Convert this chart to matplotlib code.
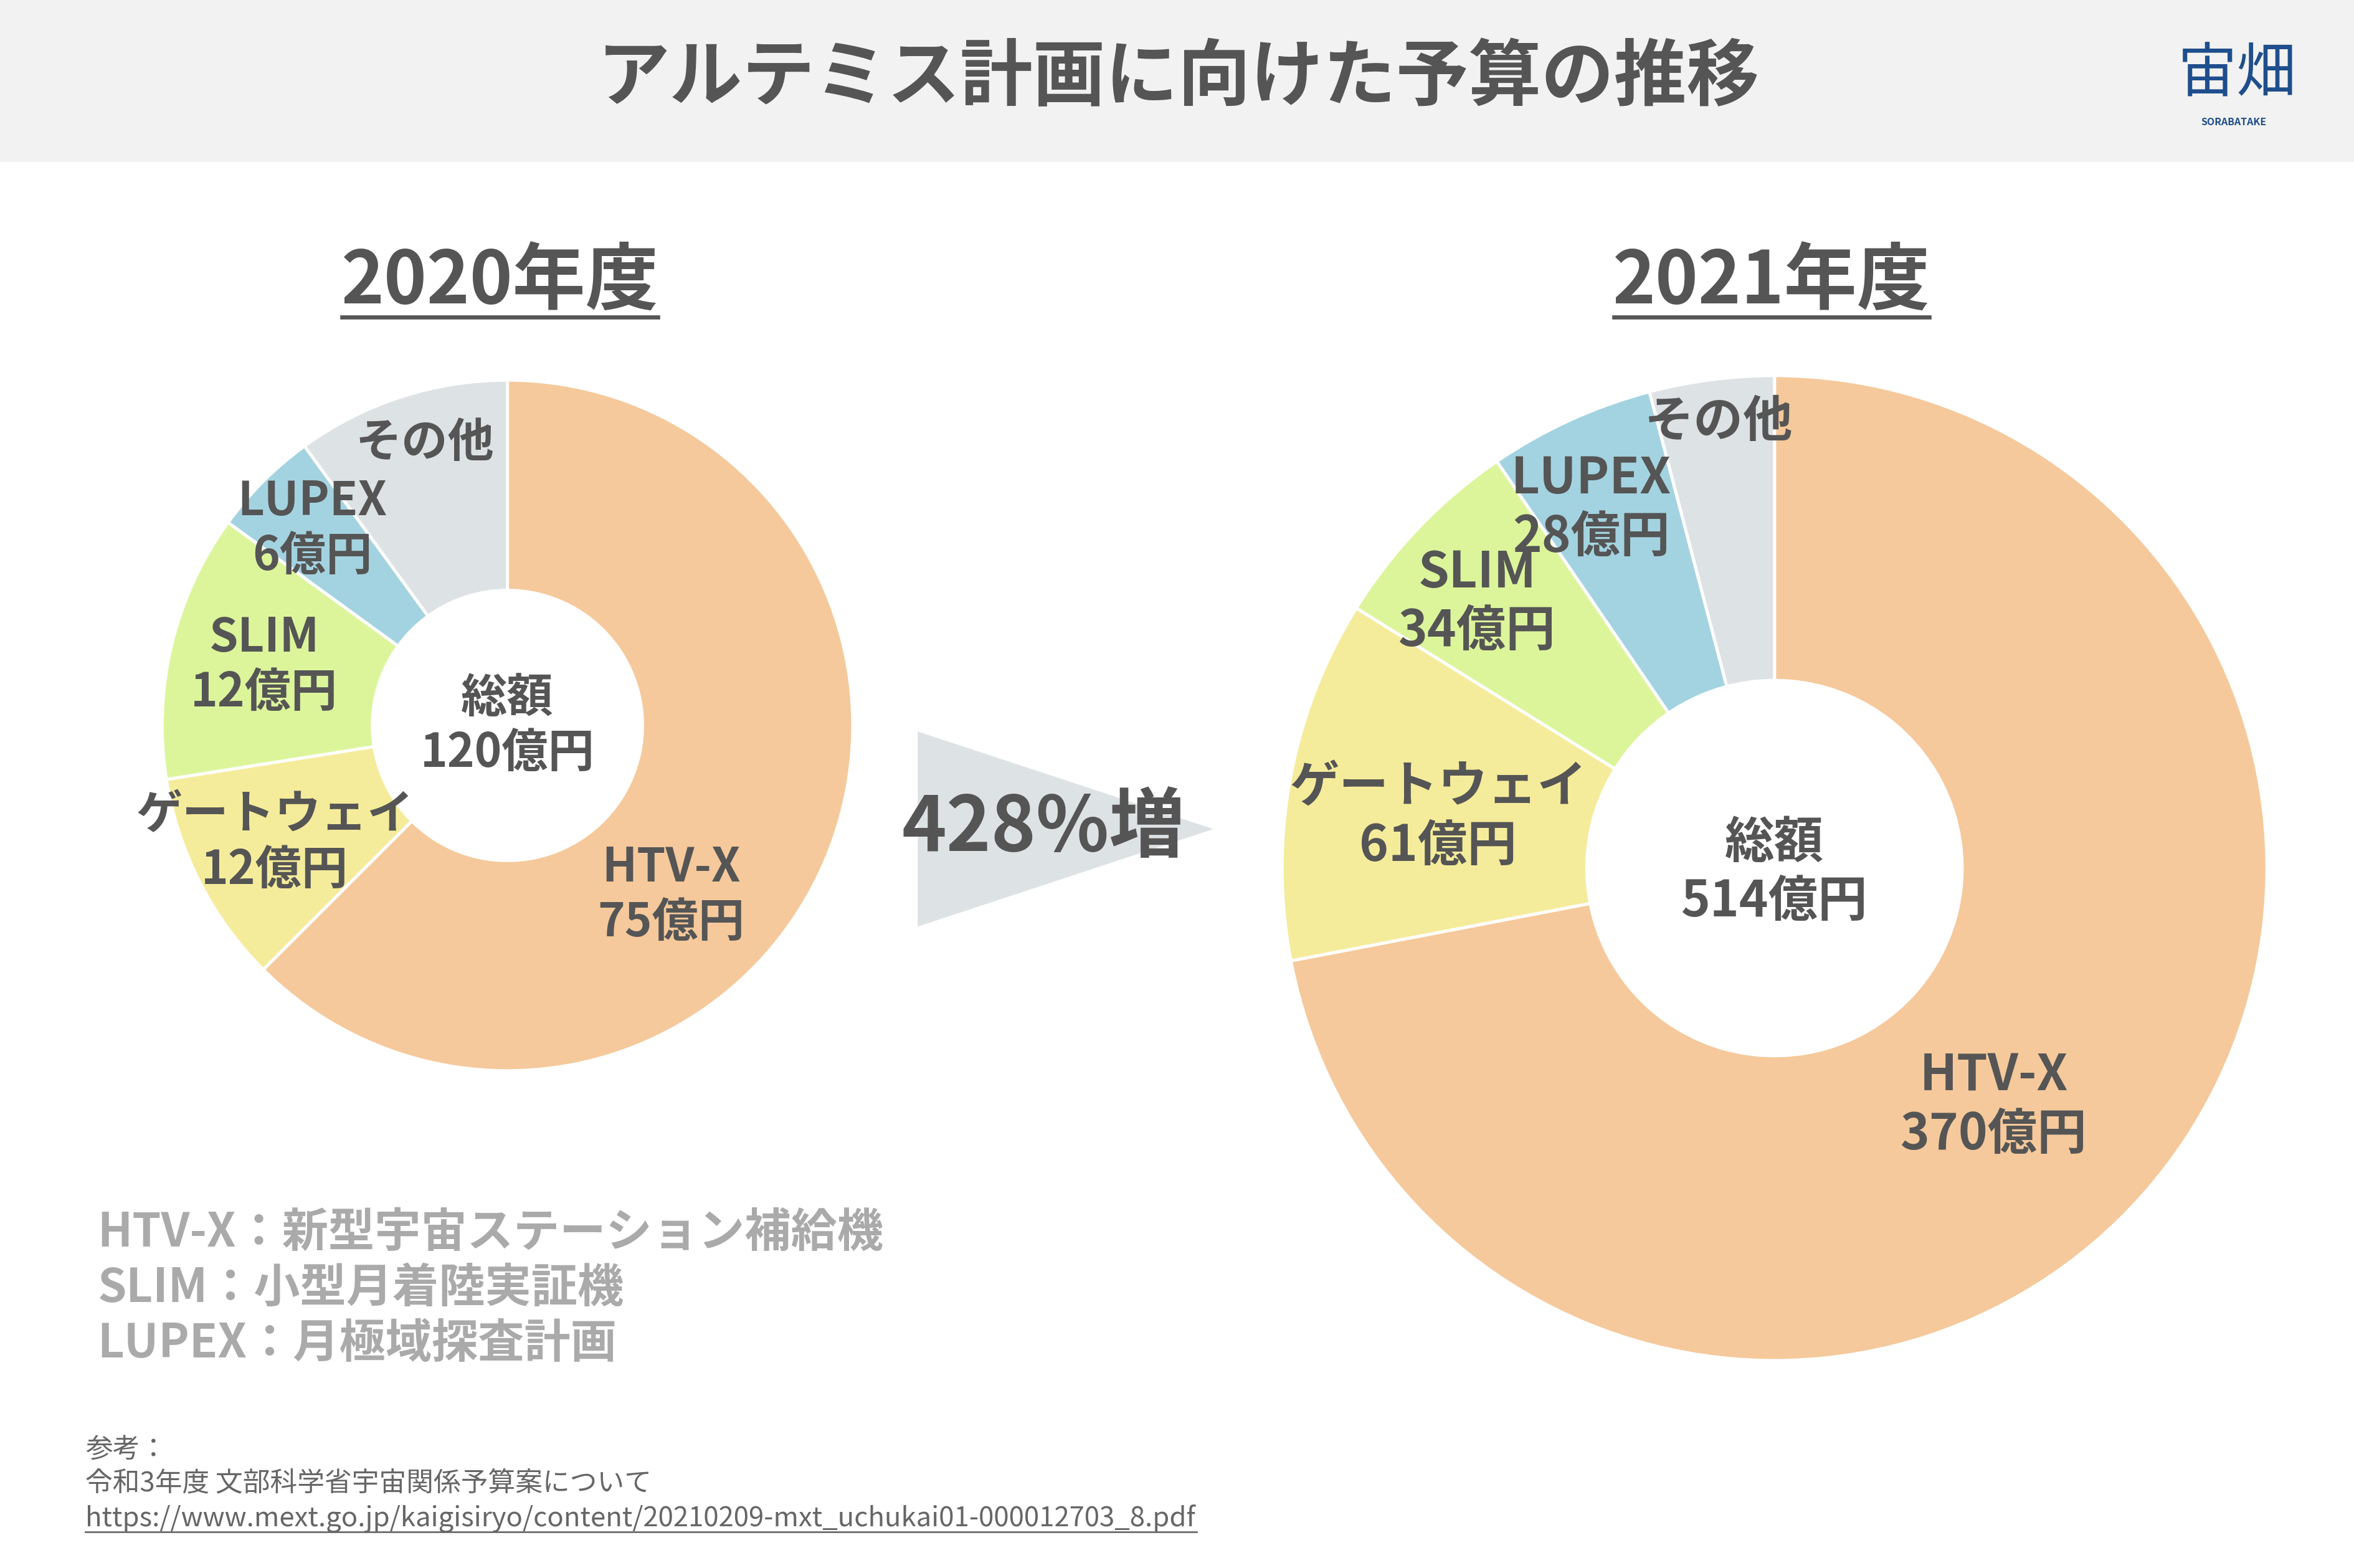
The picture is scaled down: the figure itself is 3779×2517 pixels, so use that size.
import matplotlib
matplotlib.use("Agg")
import matplotlib.pyplot as plt
from matplotlib.patches import Rectangle, Polygon

plt.rcParams['font.family'] = ['Noto Sans CJK JP', 'DejaVu Sans']

cats = ["HTV-X", "ゲートウェイ", "SLIM", "LUPEX", "その他"]
v2020 = [75, 12, 15, 6, 12]
v2021 = [370, 61, 34, 28, 21]
lab2020 = ["HTV-X\n75億円", "ゲートウェイ\n12億円", "SLIM\n12億円", "LUPEX\n6億円", "その他"]
lab2021 = ["HTV-X\n370億円", "ゲートウェイ\n61億円", "SLIM\n34億円", "LUPEX\n28億円", "その他"]
colors = ["#f5c99b", "#f5ec9b", "#dcf59b", "#a3d3e0", "#dde2e5"]

W, H = 1568, 1044
k = 0.723 * 1.1
fig = plt.figure(figsize=(3779/240, 2517/240), dpi=240)
TXT = "#555555"

ax2 = fig.add_axes([0, 0, 1, 1])
def donut2(vals, cx, cy, r, ri):
    ax2.pie(vals, colors=colors, startangle=90, counterclock=False, center=(cx, H-cy), radius=r,
            wedgeprops=dict(width=r-ri, edgecolor='white', linewidth=1.5))
donut2(v2020, 338, 483, 230, 90)
donut2(v2021, 1182, 578, 328, 125)
ax2.set_xlim(0, W); ax2.set_ylim(0, H); ax2.set_aspect('equal'); ax2.axis('off')

ax = fig.add_axes([0, 0, 1, 1])
ax.set_xlim(0, W); ax.set_ylim(H, 0); ax.set_aspect('equal'); ax.axis('off')
ax.patch.set_visible(False)

ax.add_patch(Rectangle((0, 0), W, 107, color="#f2f2f2", zorder=0))
ax.text(785, 52, "アルテミス計画に向けた予算の推移", ha='center', va='center', fontsize=44*k, weight='bold', color=TXT)
ax.text(1490, 50, "宙畑", ha='center', va='center', fontsize=36*k, color="#1f4e8c", style='italic')
ax.text(1488, 81, "SORABATAKE", ha='center', va='center', fontsize=6*k, color="#1f4e8c", weight='bold')

def labels(labs, pos, total, tpos, fs):
    for l, (x, y) in zip(labs, pos):
        ax.text(x, y, l, ha='center', va='center', fontsize=fs*k, weight='bold', color=TXT, linespacing=1.2, zorder=5)
    ax.text(tpos[0], tpos[1], total, ha='center', va='center', fontsize=fs*k, weight='bold', color=TXT, linespacing=1.2, zorder=5)
labels(lab2020, [(447, 596), (183, 561), (176, 443), (208, 352), (283, 295)], "総額\n120億円", (338, 483), 28)
labels(lab2021, [(1328, 736), (958, 544), (984, 401), (1060, 338), (1145, 281)], "総額\n514億円", (1182, 581), 30)

for x, t in [(333, "2020年度"), (1180, "2021年度")]:
    ax.text(x, 188, t, ha='center', va='center', fontsize=42*k*1.05, weight='bold', color=TXT)
    ax.plot([x-105, x+105], [211, 211], color=TXT, lw=2)

ax.add_patch(Polygon([(612, 488), (612, 616), (806, 552)], closed=True, color="#dde2e5", zorder=1))
ax.text(695, 552, "428%増", ha='center', va='center', fontsize=46*k, weight='bold', color=TXT, zorder=5)

for i, t in enumerate(["HTV-X：新型宇宙ステーション補給機", "SLIM：小型月着陸実証機", "LUPEX：月極域探査計画"]):
    ax.text(65, 821 + 37*i, t, ha='left', va='center', fontsize=28*k, weight='bold', color="#aaaaaa")

fk = 0.723 * 1.21
ax.text(57, 966, "参考：", ha='left', va='center', fontsize=15*fk, color="#666666")
ax.text(57, 988, "令和3年度 文部科学省宇宙関係予算案について", ha='left', va='center', fontsize=15*fk, color="#666666")
ax.text(57, 1011, "https://www.mext.go.jp/kaigisiryo/content/20210209-mxt_uchukai01-000012703_8.pdf",
        ha='left', va='center', fontsize=15*fk, color="#666666")
ax.plot([57, 797], [1020, 1020], color="#666666", lw=0.8)

fig.savefig("out.png", dpi=240, facecolor='white')
